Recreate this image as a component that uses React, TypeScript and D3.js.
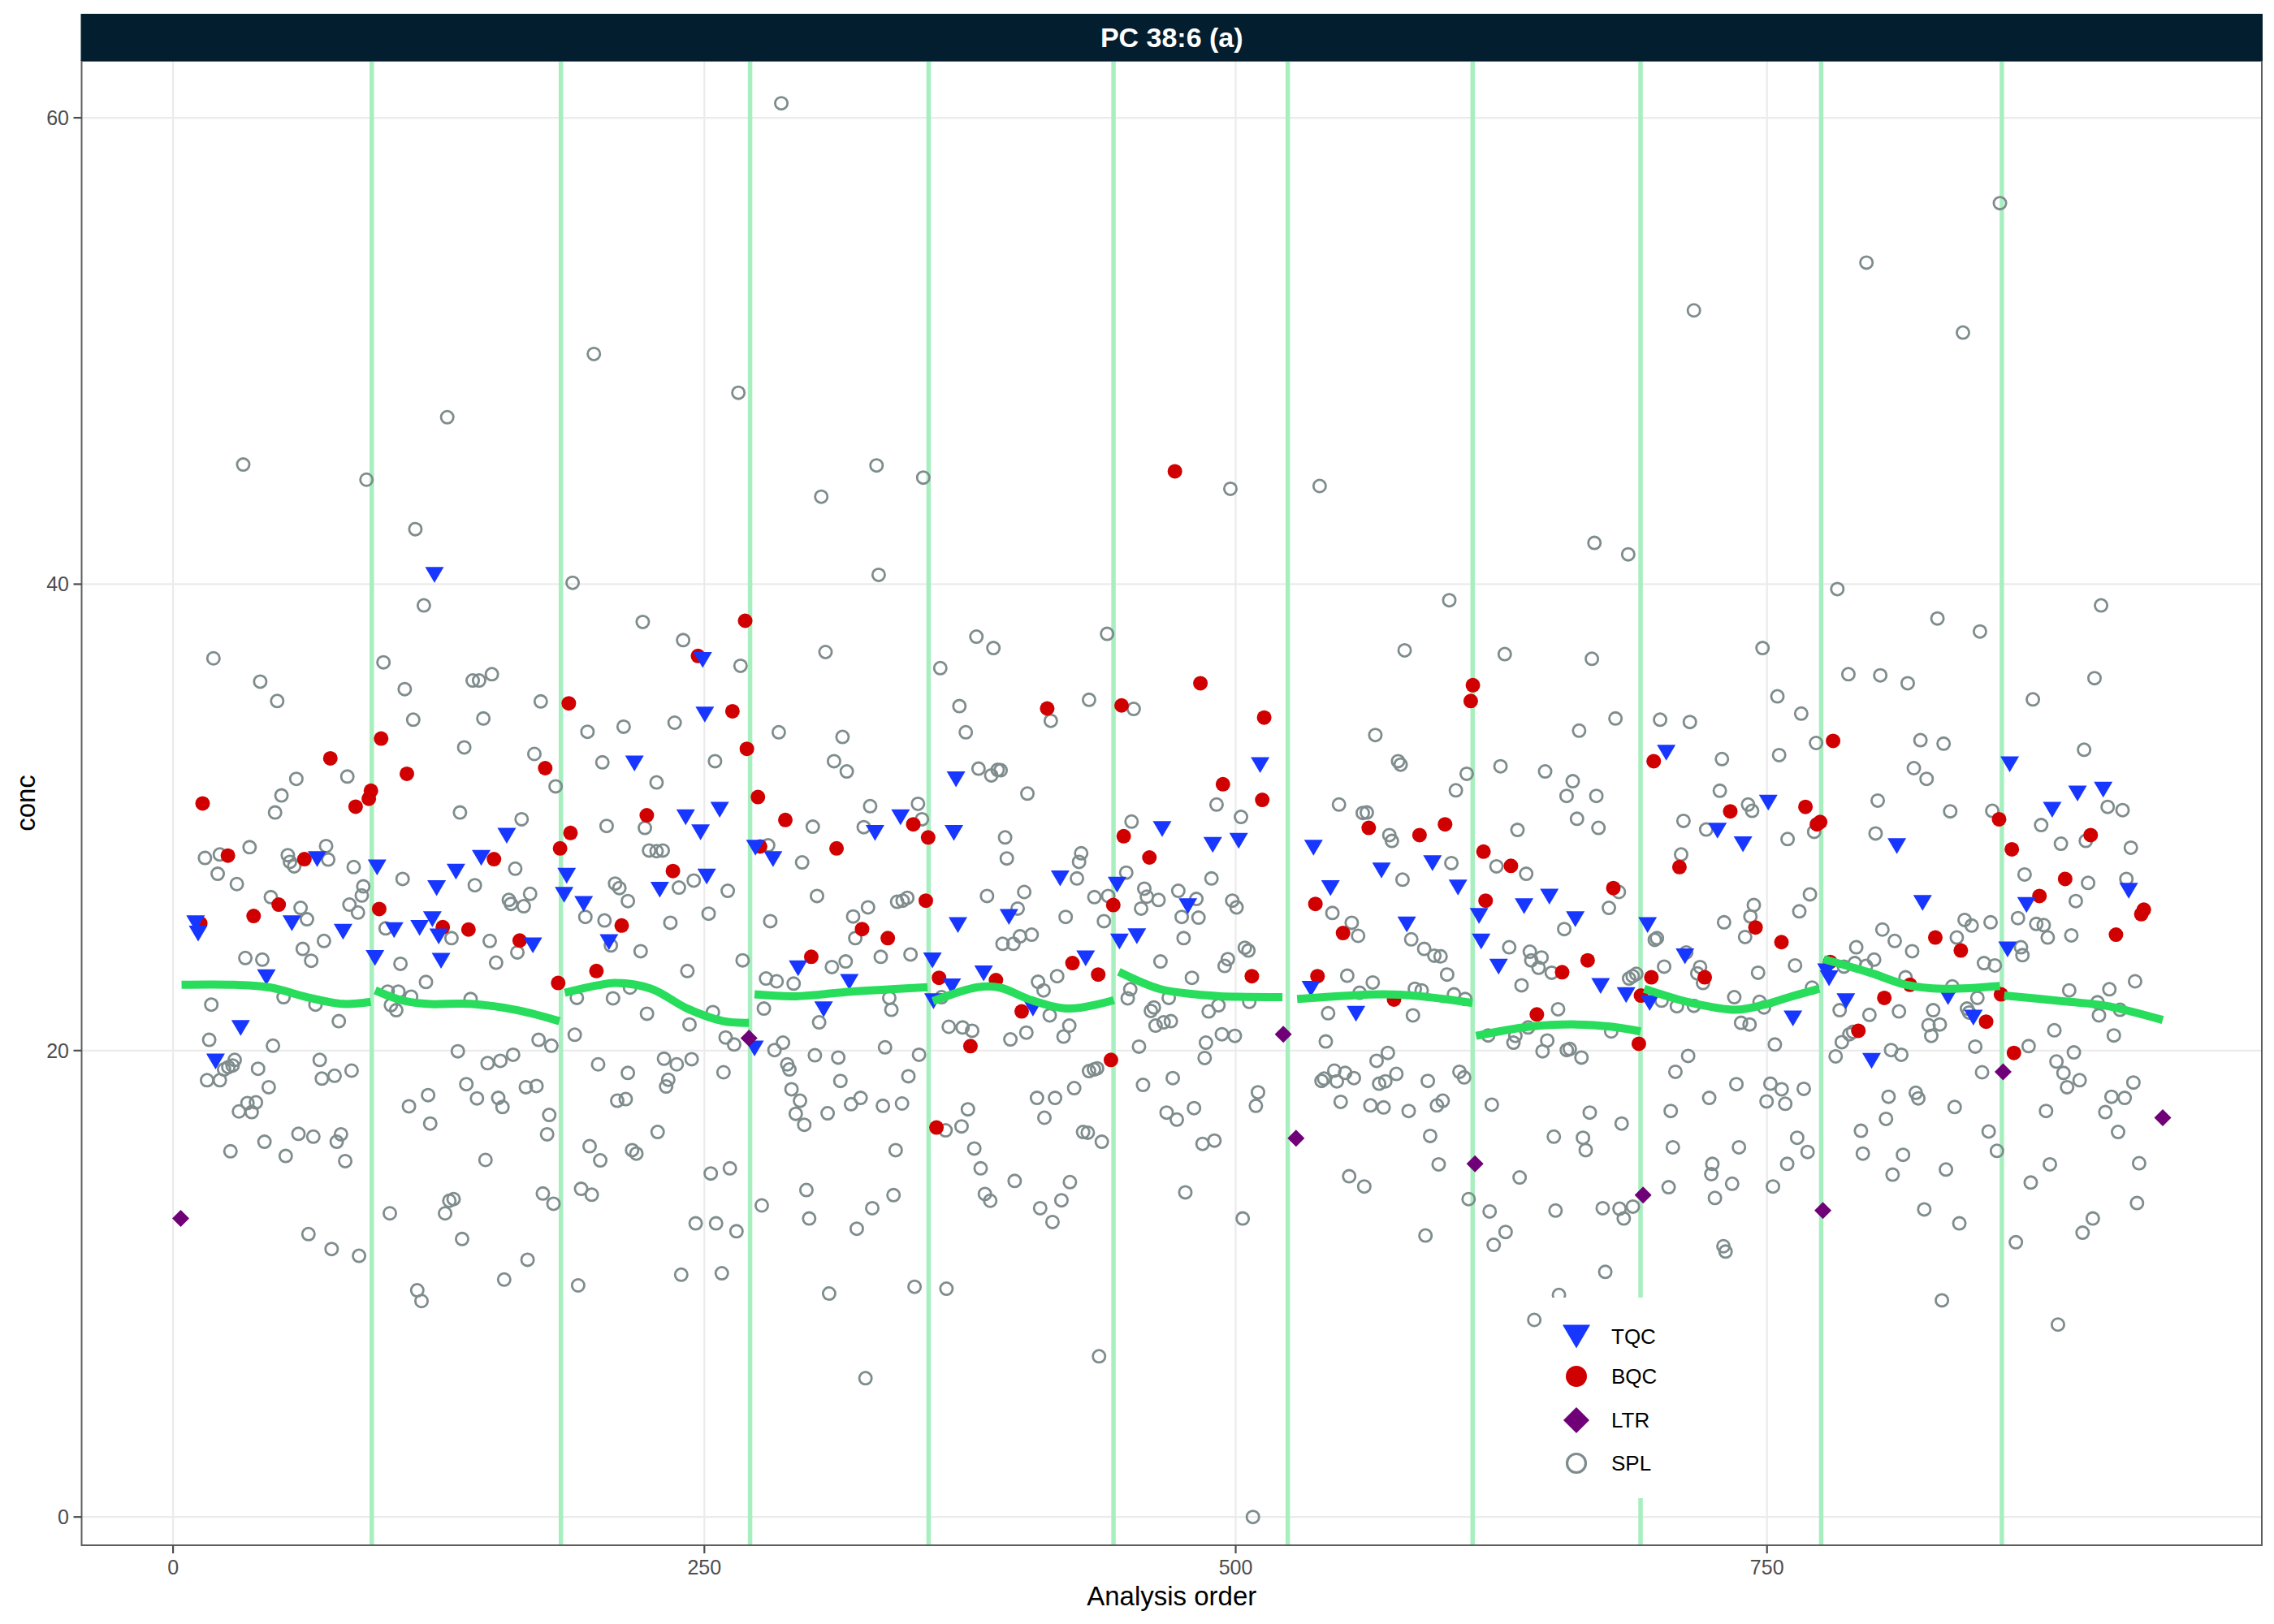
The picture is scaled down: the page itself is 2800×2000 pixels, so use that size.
import React, { useEffect, useRef } from "react";
import * as d3 from "d3";

// facet title and tick labels
const stripTitle = "PC 38:6 (a)";
const xTicks = [0, 250, 500, 750];
const yTicks = [0, 20, 40, 60];
const legendLabels = ["TQC", "BQC", "LTR", "SPL"];

// analysis order where a new batch starts
const batchBreaks = [93.5, 182.5, 271.5, 355.5, 442.5, 524.5, 611.5, 690.5, 775.5, 860.5];

// [analysis order, conc]
const tqc: [number, number][] = [
  [10.6, 25.46], [11.8, 25.02], [20, 19.53], [31.8, 20.97], [43.9, 23.14], [55.9, 25.46], [67.8, 28.21],
  [80, 25.09], [95, 23.97], [96, 27.85], [104, 25.16], [116, 25.26], [122, 25.63], [123, 40.4], [124, 26.97],
  [125, 24.89], [126.1, 23.85], [133.1, 27.67], [145, 28.26], [157, 29.21], [169.3, 24.51], [184, 26.68],
  [185.2, 27.5], [193.2, 26.29], [205.1, 24.65], [217.1, 32.31], [229, 26.9], [241.2, 30.0], [248.2, 29.36],
  [249.2, 36.75], [250.2, 34.41], [251.1, 27.46], [257.2, 30.33], [273.6, 20.09], [274, 28.7], [282.3, 28.21],
  [294.1, 23.53], [306.1, 21.77], [318.2, 22.94], [330.3, 29.33], [342.3, 30.0], [357.3, 23.87], [357.8, 22.12],
  [366.4, 22.75], [367.4, 29.33], [368.4, 31.63], [369.3, 25.38], [381.4, 23.31], [393.3, 25.73], [404.6, 21.8],
  [417.4, 27.38], [429.4, 23.95], [444.2, 27.11], [445.3, 24.68], [453.5, 24.9], [465.4, 29.5], [477.5, 26.19],
  [489.2, 28.82], [501.4, 28.99], [511.5, 32.24], [535.4, 22.65], [536.6, 28.7], [544.6, 26.97], [556.6, 21.58],
  [568.6, 27.72], [580.5, 25.41], [592.6, 28.04], [604.6, 26.99], [614.5, 25.77], [615.5, 24.68], [623.7, 23.6],
  [635.7, 26.19], [647.6, 26.6], [659.8, 25.63], [671.7, 22.77], [683.7, 22.38], [693.8, 25.38], [694.8, 22.04],
  [702.6, 32.77], [711.4, 24.04], [726.7, 29.43], [738.7, 28.85], [750.6, 30.63], [762.2, 21.38], [778, 23.4],
  [779.2, 23.1], [787.1, 22.12], [799.2, 19.56], [811.1, 28.77], [823.2, 26.33], [835.2, 22.29], [847.1, 21.41],
  [863.2, 24.34], [864.2, 32.28], [872.1, 26.24], [884.2, 30.33], [896.1, 31.02], [908.2, 31.19], [920.2, 26.85],
];

const bqc: [number, number][] = [
  [12.8, 25.46], [13.9, 30.6], [25.8, 28.36], [37.9, 25.77], [49.7, 26.26], [61.8, 28.21], [74, 32.53],
  [85.9, 30.46], [92.1, 30.8], [93.1, 31.14], [97, 26.07], [97.9, 33.38], [110, 31.87], [126.9, 25.29],
  [139, 25.19], [151, 28.21], [163.1, 24.72], [175.1, 32.11], [181.2, 22.9], [182.1, 28.67], [186.2, 34.89],
  [187, 29.33], [199.2, 23.41], [211.1, 25.36], [222.9, 30.09], [235.2, 27.7], [247, 36.92], [263.2, 34.55],
  [269.2, 38.43], [270, 32.94], [275.2, 30.87], [276.2, 28.75], [288.1, 29.89], [300.3, 24.02], [312.2, 28.67],
  [324.2, 25.21], [336.3, 24.82], [348.3, 29.7], [354.2, 26.43], [355.3, 29.14], [359.2, 16.7], [360.4, 23.12],
  [375.2, 20.19], [387.2, 23.02], [399.3, 21.68], [411.3, 34.67], [423.2, 23.75], [435.3, 23.26], [441.3, 19.6],
  [442.4, 26.24], [446.3, 34.8], [447.3, 29.19], [459.4, 28.28], [471.4, 44.84], [483.4, 35.75], [494, 31.42],
  [507.6, 23.19], [512.5, 30.75], [513.4, 34.28], [537.5, 26.29], [538.5, 23.19], [550.5, 25.04], [562.6, 29.55],
  [574.5, 22.19], [586.5, 29.24], [598.5, 29.7], [610.6, 34.99], [611.6, 35.67], [616.6, 28.53], [617.6, 26.43],
  [629.5, 27.92], [641.7, 21.55], [653.6, 23.36], [665.6, 23.87], [677.7, 26.97], [689.7, 20.29], [690.7, 22.36],
  [695.6, 23.14], [696.7, 32.41], [708.8, 27.87], [720.7, 23.14], [732.7, 30.26], [744.6, 25.28], [756.8, 24.65],
  [768.1, 30.45], [773.5, 29.7], [775, 29.8], [779.7, 23.8], [781.1, 33.28], [793, 20.85], [805.2, 22.26],
  [817.3, 22.82], [829.2, 24.85], [841.2, 24.29], [853.1, 21.24], [859.2, 29.92], [860.1, 22.41], [865.2, 28.63],
  [866.2, 19.9], [878.2, 26.63], [890.3, 27.36], [902.3, 29.24], [914.2, 24.97], [926.1, 25.85], [927.3, 26.04],
];

const ltr: [number, number][] = [
  [3.6, 12.8], [271, 20.53], [522.4, 20.7], [528.4, 16.24], [612.6, 15.14], [691.7, 13.8], [776.3, 13.14],
  [861.1, 19.09], [936.2, 17.12],
];

const spl: [number, number][] = [
  // batch 1-3
  [33, 45.13], [91, 44.48], [129, 47.16], [198, 49.87], [114, 42.36], [118, 39.09], [188, 40.06], [221, 38.38],
  [19, 36.82], [41, 35.82], [49, 34.99], [99, 36.65], [109, 35.5], [113, 34.19], [141, 35.87], [144, 35.87],
  [150, 36.14], [146, 34.24], [137, 33.0], [173, 34.97], [170, 32.72], [180, 31.33], [195, 33.67], [202, 32.36],
  [212, 33.89], [135, 30.21], [164, 29.92], [204, 29.63], [222, 29.55], [224, 28.58], [58, 31.65], [82, 31.75],
  [51, 30.94], [48, 30.21], [15, 28.26], [22, 28.41], [21, 27.58], [36, 28.72], [30, 27.14], [54, 28.38],
  [55, 28.09], [57, 27.9], [72, 28.77], [73, 28.19], [85, 27.87], [89.5, 27.04], [88.8, 26.65], [83, 26.26],
  [87, 25.92], [46, 26.58], [60, 26.12], [63, 25.63], [108, 27.36], [142, 27.09], [161, 27.8], [158, 26.46],
  [159, 26.29], [165, 26.19], [168, 26.72], [208, 27.16], [210, 26.97], [214, 26.41], [194, 25.73], [203, 25.58],
  [100, 25.24], [131, 24.82], [149, 24.7], [162, 24.21], [152, 23.77], [206, 24.51], [220, 24.26], [61, 24.36],
  [65, 23.85], [71, 24.7], [34, 23.97], [42, 23.9], [107, 23.72], [119, 22.94], [101, 22.53], [106, 22.53],
  [112, 22.31], [102.5, 21.95], [105, 21.73], [140, 22.21], [190, 22.26], [207, 22.24], [215, 22.7], [223, 21.58],
  [52, 22.29], [67, 21.97], [78, 21.26], [18, 21.97], [17, 20.46], [47, 20.21], [189, 20.68], [172, 20.46],
  [178, 20.21], [134, 19.97], [148, 19.46], [154, 19.56], [160, 19.82], [29, 19.6], [26, 19.29], [24, 19.19],
  [28, 19.36], [16, 18.73], [22, 18.73], [40, 19.22], [45, 18.43], [69, 19.6], [70, 18.8], [76, 18.92],
  [84, 19.14], [31, 17.39], [35, 17.75], [37, 17.36], [39, 17.78], [111, 17.61], [120, 18.09], [121, 16.87],
  [138, 18.56], [143, 17.95], [153, 17.97], [155, 17.58], [166, 18.43], [171, 18.48], [177, 17.24], [176, 16.41],
  [200, 19.41], [214, 19.04], [209, 17.85], [213, 17.92], [27, 15.68], [43, 16.09], [53, 15.48], [59, 16.43],
  [66, 16.31], [77, 16.09], [79, 16.41], [81, 15.26], [147, 15.31], [196, 15.9], [201, 15.29], [216, 15.73],
  [218, 15.58], [174, 13.87], [179, 13.43], [192, 14.07], [197, 13.82], [130, 13.56], [132, 13.63], [102, 13.02],
  [128, 13.02],
  // batch 3-6
  [266, 48.21], [331, 45.09], [305, 43.75], [353, 44.57], [332, 40.4], [240, 37.6], [267, 36.5], [236, 34.06],
  [255, 32.41], [227.5, 31.5], [307, 37.09], [285, 33.65], [315, 33.45], [311, 32.41], [317, 31.97], [328, 30.48],
  [350.5, 30.58], [352.4, 29.92], [325, 29.58], [301, 29.6], [296, 28.07], [227.5, 28.55], [230.4, 28.58],
  [238, 26.99], [245, 27.29], [261, 26.85], [234, 25.48], [252, 25.87], [281, 25.55], [303, 26.63], [320, 25.75],
  [327, 26.14], [321, 24.82], [340.7, 26.38], [343.3, 26.43], [345.5, 26.55], [280, 28.8], [242, 23.41],
  [268, 23.87], [279, 23.09], [284, 22.97], [292, 22.87], [310, 23.58], [316.5, 23.82], [333, 24.02], [347, 24.12],
  [337, 22.26], [338, 21.75], [254, 21.65], [243, 21.12], [278, 21.8], [304, 21.21], [260, 20.56], [264, 20.26],
  [231, 19.65], [237, 19.41], [244, 19.63], [233, 18.75], [232, 18.46], [259, 19.07], [228, 16.51], [283, 20.02],
  [287, 20.34], [289, 19.41], [290, 19.19], [291, 18.34], [295, 17.85], [293, 17.29], [297, 16.82], [302, 19.8],
  [313, 19.7], [314, 18.7], [308, 17.31], [319, 17.7], [323.5, 17.97], [334, 17.63], [335, 20.14], [343, 17.73],
  [346, 18.9], [351, 19.82], [340, 15.73], [253, 14.73], [262, 14.95], [277, 13.36], [298, 14.02], [329, 13.24],
  [339, 13.8], [299.3, 12.8],
  [361, 36.4], [378, 37.75], [386, 37.26], [370, 34.77], [373, 33.65], [379, 32.09], [385, 31.8], [388, 32.04],
  [389.4, 32.02], [402, 31.02], [413, 34.14], [431, 35.04], [439.5, 37.87], [391.5, 29.14], [392.3, 28.24],
  [427.3, 28.46], [426.3, 28.09], [425.3, 27.38], [383, 26.63], [400.5, 26.8], [397.4, 26.09], [398.5, 24.9],
  [404, 24.97], [390.3, 24.58], [395.4, 24.58], [420, 25.73], [433.5, 26.58], [440, 26.63], [438, 25.55],
  [407, 22.95], [409.6, 22.58], [416, 23.19], [412.5, 21.51], [361.6, 22.29], [365, 21.02], [371.5, 20.99],
  [376, 20.85], [394, 20.48], [401.5, 20.77], [419, 20.6], [421.7, 21.07], [424, 18.39], [431, 19.12],
  [433.3, 19.19], [434.8, 19.24], [406.5, 17.97], [415, 17.97], [410, 17.12], [374, 17.48], [371, 16.75],
  [363.5, 16.58], [377, 15.8], [380, 14.95], [428.2, 16.51], [430.4, 16.48], [437, 16.09], [396, 14.41],
  [422, 14.36], [418, 13.58], [382, 13.85], [384.5, 13.56], [408, 13.24],
  [452, 34.65], [451, 29.82], [448.5, 27.63], [457, 26.94], [458.2, 26.6], [455.5, 26.09], [463.7, 26.46],
  [473, 26.85], [481.5, 26.5], [474.6, 25.73], [482.5, 25.7], [475.5, 24.82], [491, 30.55], [488.6, 27.38],
  [464.6, 23.82], [479.4, 23.12], [450.4, 22.63], [449.2, 22.24], [468.5, 22.26], [461.5, 21.85], [460.1, 21.7],
  [462.3, 21.07], [466.1, 21.21], [469.5, 21.26], [487.3, 21.68], [491.9, 21.94], [454.5, 20.17], [486, 20.34],
  [485.4, 19.68], [456.4, 18.53], [470.4, 18.82], [467.5, 17.34], [472.3, 17.04], [480.4, 17.53], [484.4, 16.0],
  [490, 16.14], [476.3, 13.92],
  // batch 6-9
  [497.5, 44.09], [539.5, 44.21], [668.8, 41.77], [684.7, 41.28], [600.5, 39.31], [579.5, 37.16], [626.6, 37.0],
  [667.6, 36.8], [747.9, 37.26], [754.9, 35.19], [755.7, 32.67], [759.7, 29.07], [565.7, 33.53], [576.4, 32.41],
  [577.6, 32.26], [548.6, 30.55], [559.8, 30.19], [561.7, 30.21], [572.3, 29.24], [573.5, 28.99], [578.5, 27.33],
  [601.5, 28.04], [603.6, 31.16], [608.7, 31.87], [661.6, 33.72], [678.7, 34.24], [699.7, 34.19], [713.7, 34.09],
  [624.6, 32.19], [645.6, 31.97], [658.6, 31.55], [655.7, 30.92], [669.7, 30.92], [660.6, 29.94], [670.7, 29.55],
  [632.6, 29.46], [622.7, 27.9], [636.7, 27.58], [728.8, 32.5], [727.8, 31.14], [741.1, 30.55], [743, 30.28],
  [710.7, 29.85], [721.4, 29.48], [709.6, 28.41], [502.5, 30.02], [498.4, 26.43], [500.4, 26.14], [545.5, 25.9],
  [554.6, 25.48], [557.6, 24.92], [582.6, 24.77], [588.7, 24.36], [593.5, 24.07], [596.4, 24.04], [599.5, 23.26],
  [552.5, 23.21], [564.5, 22.92], [558.3, 22.48], [584.3, 22.65], [587.5, 22.58], [602.7, 22.41], [608, 22.21],
  [583.4, 21.51], [543.5, 21.6], [506.4, 22.09], [504.3, 24.41], [506, 24.29], [496.3, 23.92], [494.8, 23.63],
  [493.5, 20.7], [499.6, 20.63], [542.4, 20.39], [509.5, 17.63], [510.5, 18.21], [503.3, 12.8], [540.4, 18.7],
  [541.6, 18.8], [546.4, 19.14], [547.6, 18.68], [551.5, 19.04], [555.6, 18.82], [549.4, 17.8], [566.3, 19.56],
  [571.6, 19.9], [567.5, 18.58], [570.4, 18.68], [575.6, 19.0], [563.4, 17.65], [569.6, 17.56], [581.4, 17.41],
  [590.4, 18.7], [594.7, 17.65], [597.4, 17.85], [605.3, 19.09], [607.5, 18.85], [591.5, 16.34], [595.5, 15.12],
  [553.4, 14.61], [560.5, 14.17], [609.6, 13.63], [619.5, 13.1],
  [618.8, 20.65], [630.7, 20.34], [631.6, 20.63], [637.6, 20.99], [646.6, 20.43], [644.4, 19.97], [651.7, 21.77],
  [655.8, 20.02], [657.2, 20.07], [662.7, 19.7], [676.7, 20.82], [620.5, 17.68], [628.7, 24.43], [634.5, 22.8],
  [638.4, 24.24], [639.1, 23.87], [643.9, 23.99], [642.5, 23.55], [648.7, 23.34], [654.6, 25.21], [675.6, 26.12],
  [680.3, 26.8], [685.1, 23.09], [686.8, 23.19], [688.5, 23.29], [666.6, 17.34], [681.6, 16.87], [649.7, 16.31],
  [663.4, 16.26], [664.7, 15.73], [633.6, 14.56], [650.5, 13.14], [672.7, 13.24], [680.6, 13.22], [686.9, 13.31],
  [682.6, 12.8],
  [698.2, 24.82], [697.2, 24.75], [701.6, 23.6], [700.4, 22.14], [707.6, 21.9], [712, 24.21], [715.6, 21.92],
  [717.2, 23.31], [718.5, 23.58], [719.9, 22.9], [712.9, 19.77], [706.9, 19.09], [704.7, 17.41], [705.7, 15.85],
  [703.7, 14.14], [722.8, 17.97], [724.3, 15.14], [723.8, 14.7], [725.5, 13.68], [733.6, 14.29], [736.8, 15.85],
  [735.6, 18.56], [729.8, 25.5], [743.8, 26.24], [742.2, 25.75], [739.7, 24.87], [745.8, 23.34], [734.6, 22.29],
  [746.5, 22.09], [748.6, 21.85], [737.8, 21.19], [741.8, 21.12], [753.7, 20.26], [751.6, 18.58], [756.9, 18.34],
  [749.8, 17.82], [758.6, 17.72], [752.8, 14.17], [759.5, 15.14],
  // batch 9-11
  [842.2, 50.79], [783.1, 39.79], [830.2, 38.53], [850.2, 37.97], [907.2, 39.09], [766.1, 34.45], [773.1, 33.19],
  [788.3, 36.14], [803.3, 36.09], [816.2, 35.75], [822.2, 33.31], [833.1, 33.16], [819.1, 32.11], [825.1, 31.65],
  [875.1, 35.06], [904.1, 35.97], [899.2, 32.9], [772.2, 29.38], [802.1, 30.72], [801.1, 29.31], [836.2, 30.26],
  [856, 30.28], [910.3, 30.45], [917.3, 30.31], [879, 29.67], [888.3, 28.87], [900, 28.99], [921.2, 28.7],
  [871.2, 27.55], [901.1, 27.19], [919.1, 27.36], [895.3, 26.41], [770.2, 26.7], [765.2, 25.97], [763.2, 23.65],
  [868.1, 25.68], [876.7, 25.43], [880.2, 25.38], [882.1, 24.85], [893.2, 24.94], [843, 25.6], [846.3, 25.36],
  [855.2, 25.5], [839.3, 24.85], [804.3, 25.19], [810.1, 24.7], [818.3, 24.26], [792, 24.43], [791.3, 23.75],
  [786.2, 23.6], [800.4, 23.9], [796.6, 23.63], [815.2, 23.14], [837.2, 22.75], [852.1, 23.75], [857.2, 23.65],
  [869.5, 24.43], [870.2, 24.09], [892.2, 22.58], [911.1, 22.63], [923.2, 22.97], [905.5, 22.07], [906.2, 21.51],
  [916.1, 21.75], [885.2, 20.87], [913.2, 20.65], [873.1, 20.19], [894.4, 19.92], [771.2, 22.7], [784.2, 21.73],
  [798.2, 21.53], [812.1, 21.68], [828.2, 21.73], [826, 21.09], [831.3, 21.12], [827.3, 20.63], [844.1, 21.8],
  [845.1, 21.63], [849, 22.26], [848, 20.17], [785.2, 20.36], [788.8, 20.7], [790.5, 20.8], [782.3, 19.75],
  [808.4, 20.02], [813.2, 19.82], [851.2, 19.07], [886.2, 19.53], [889.5, 19.04], [891.2, 18.43], [897.1, 18.73],
  [922.4, 18.63], [912.1, 18.02], [918.3, 17.97], [909.2, 17.36], [915.2, 16.51], [881.3, 17.41], [838.3, 17.58],
  [807.2, 18.02], [820, 18.19], [821.2, 17.95], [806, 17.07], [794.2, 16.56], [795.1, 15.58], [814, 15.53],
  [854.3, 16.53], [858.2, 15.7], [834.2, 14.9], [809.1, 14.68], [824, 13.19], [883.1, 15.12], [874.1, 14.34],
  [925.1, 15.17], [924.1, 13.46], [767.3, 18.36], [764.2, 16.26], [769.1, 15.65], [903.3, 12.8],
  // high and low samples
  [286.2, 60.62], [859.6, 56.34], [796.8, 53.79], [715.6, 51.74],
  [63.7, 12.13], [74.6, 11.49], [87.5, 11.2], [136, 11.92], [166.8, 11.03], [114.9, 9.72], [116.9, 9.26],
  [155.8, 10.18], [190.6, 9.93], [239.1, 10.39], [258.2, 10.45], [245.9, 12.59], [255.5, 12.59], [265.1, 12.25],
  [321.7, 12.36], [308.7, 9.58], [348.9, 9.87], [363.9, 9.79], [325.8, 5.95], [413.8, 12.65], [435.7, 6.89],
  [508.1, 0.0], [589.3, 12.07], [621.4, 11.67], [627, 12.22], [652.1, 9.52], [640.5, 8.45], [673.9, 10.51],
  [729.5, 11.61], [730.5, 11.38], [840.5, 12.59], [832.3, 9.29], [867.1, 11.78], [898.5, 12.19], [886.9, 8.25],
];

// loess trend per batch
const loessBatches: [number, number][][] = [
  [[4, 22.82], [28.9, 22.82], [46, 22.7], [63, 22.29], [80, 22.0], [93, 22.09]],
  [[95.1, 22.58], [107.4, 22.16], [119.4, 22.0], [140, 22.0], [162.1, 21.73], [181.8, 21.26]],
  [[184.3, 22.48], [200, 22.8], [208, 22.9], [225, 22.65], [242, 21.8], [259, 21.26], [271, 21.19]],
  [[273.6, 22.41], [293, 22.33], [319, 22.53], [338, 22.63], [355, 22.72]],
  [[357.5, 22.12], [378.7, 22.72], [389, 22.7], [404, 22.16], [421.4, 21.8], [442.7, 22.16]],
  [[445, 23.38], [464, 22.65], [481, 22.41], [492.7, 22.33], [522, 22.29]],
  [[528.9, 22.21], [569.6, 22.41], [586.7, 22.33], [611.4, 22.04]],
  [[613.1, 20.63], [637.9, 21.02], [660.1, 21.12], [677.2, 21.02], [690.5, 20.82]],
  [[692.2, 22.65], [714.8, 22.04], [735.3, 21.75], [748.9, 21.97], [760.5, 22.29], [774.6, 22.65]],
  [[776.7, 23.92], [798.5, 23.34], [815.6, 22.82], [832.6, 22.65], [859.6, 22.77]],
  [[861.6, 22.36], [892.4, 22.09], [909.4, 21.92], [936.2, 21.31]],
];

const colors = {
  TQC: "#1736ff",
  BQC: "#d10000",
  LTR: "#700078",
  SPL: "#7f8c8d",
  batch: "#a8efc0",
  loess: "#27dd5b",
  strip: "#031e2f",
  grid: "#ebebeb",
  border: "#5e5e5e",
};

const triangle = (w: number, h: number) => `M${-w / 2},${-h / 2}L${w / 2},${-h / 2}L0,${h / 2}Z`;
const diamond = (r: number) => `M0,${-r}L${r},0L0,${r}L${-r},0Z`;

const QcPlot = () => {
  const ref = useRef<HTMLDivElement>(null);

  useEffect(() => {
    const width = 2800;
    const height = 2000;
    const panel = { left: 100.5, right: 2785, top: 75, bottom: 1903 };
    const font = "'Liberation Sans', Arial, Helvetica, sans-serif";

    d3.select(ref.current).selectAll("*").remove();
    const svg = d3
      .select(ref.current)
      .append("svg")
      .attr("width", width)
      .attr("height", height)
      .style("display", "block")
      .style("font-family", font);

    svg.append("rect").attr("width", width).attr("height", height).attr("fill", "#fff");

    const all = [...tqc, ...bqc, ...ltr, ...spl];
    const [xMin, xMax] = d3.extent(all, (d) => d[0]) as [number, number];
    const [yMin, yMax] = d3.extent(all, (d) => d[1]) as [number, number];
    const xPad = (xMax - xMin) * 0.05;
    const yRange = yMax - yMin;

    const x = d3.scaleLinear().domain([xMin - xPad, xMax + xPad]).range([panel.left, panel.right]);
    const y = d3
      .scaleLinear()
      .domain([yMin - yRange * 0.02, yMax + yRange * 0.03])
      .range([panel.bottom, panel.top]);

    // grid
    const grid = svg.append("g");
    grid
      .selectAll(".gx")
      .data(xTicks)
      .enter()
      .append("line")
      .attr("x1", (d) => x(d))
      .attr("x2", (d) => x(d))
      .attr("y1", panel.top)
      .attr("y2", panel.bottom)
      .style("stroke", colors.grid)
      .style("stroke-width", 2.2);
    grid
      .selectAll(".gy")
      .data(yTicks)
      .enter()
      .append("line")
      .attr("x1", panel.left)
      .attr("x2", panel.right)
      .attr("y1", (d) => y(d))
      .attr("y2", (d) => y(d))
      .style("stroke", colors.grid)
      .style("stroke-width", 2.2);

    // batch boundaries
    svg
      .append("g")
      .selectAll("line")
      .data(batchBreaks)
      .enter()
      .append("line")
      .attr("x1", (d) => x(d))
      .attr("x2", (d) => x(d))
      .attr("y1", panel.top)
      .attr("y2", panel.bottom)
      .style("stroke", colors.batch)
      .style("stroke-width", 5.5);

    // points
    const pts = svg.append("g");
    pts
      .selectAll(".spl")
      .data(spl)
      .enter()
      .append("circle")
      .attr("cx", (d) => x(d[0]))
      .attr("cy", (d) => y(d[1]))
      .attr("r", 7.6)
      .style("fill", "none")
      .style("stroke", colors.SPL)
      .style("stroke-width", 2.8);
    pts
      .selectAll(".bqc")
      .data(bqc)
      .enter()
      .append("circle")
      .attr("cx", (d) => x(d[0]))
      .attr("cy", (d) => y(d[1]))
      .attr("r", 9)
      .style("fill", colors.BQC);
    pts
      .selectAll(".tqc")
      .data(tqc)
      .enter()
      .append("path")
      .attr("d", triangle(23, 19.5))
      .attr("transform", (d) => `translate(${x(d[0])},${y(d[1])})`)
      .style("fill", colors.TQC);
    pts
      .selectAll(".ltr")
      .data(ltr)
      .enter()
      .append("path")
      .attr("d", diamond(10.5))
      .attr("transform", (d) => `translate(${x(d[0])},${y(d[1])})`)
      .style("fill", colors.LTR);

    // loess trend per batch
    const line = d3
      .line<[number, number]>()
      .x((d) => x(d[0]))
      .y((d) => y(d[1]))
      .curve(d3.curveCatmullRom);
    svg
      .append("g")
      .selectAll("path")
      .data(loessBatches)
      .enter()
      .append("path")
      .attr("d", (d) => line(d))
      .style("fill", "none")
      .style("stroke", colors.loess)
      .style("stroke-width", 10);

    // panel border
    svg
      .append("rect")
      .attr("x", panel.left)
      .attr("y", panel.top)
      .attr("width", panel.right - panel.left)
      .attr("height", panel.bottom - panel.top)
      .style("fill", "none")
      .style("stroke", colors.border)
      .style("stroke-width", 2);

    // facet strip
    svg
      .append("rect")
      .attr("x", panel.left - 1)
      .attr("y", 17)
      .attr("width", panel.right - panel.left + 2)
      .attr("height", panel.top - 17)
      .style("fill", colors.strip);
    svg
      .append("text")
      .attr("x", (panel.left + panel.right) / 2)
      .attr("y", 58)
      .attr("text-anchor", "middle")
      .style("font-size", "34px")
      .style("font-weight", "bold")
      .style("fill", "#fff")
      .text(stripTitle);

    // axes
    const axes = svg.append("g").style("fill", "#4d4d4d");
    xTicks.forEach((t) => {
      axes
        .append("line")
        .attr("x1", x(t))
        .attr("x2", x(t))
        .attr("y1", panel.bottom)
        .attr("y2", panel.bottom + 10)
        .style("stroke", "#4d4d4d")
        .style("stroke-width", 2.2);
      axes
        .append("text")
        .attr("x", x(t))
        .attr("y", 1939)
        .attr("text-anchor", "middle")
        .style("font-size", "25px")
        .text(t);
    });
    yTicks.forEach((t) => {
      axes
        .append("line")
        .attr("x1", panel.left - 10)
        .attr("x2", panel.left)
        .attr("y1", y(t))
        .attr("y2", y(t))
        .style("stroke", "#4d4d4d")
        .style("stroke-width", 2.2);
      axes
        .append("text")
        .attr("x", 85)
        .attr("y", y(t))
        .attr("dy", "0.36em")
        .attr("text-anchor", "end")
        .style("font-size", "25px")
        .text(t);
    });

    svg
      .append("text")
      .attr("x", (panel.left + panel.right) / 2)
      .attr("y", 1977)
      .attr("text-anchor", "middle")
      .style("font-size", "33px")
      .style("fill", "#000")
      .text("Analysis order");
    svg
      .append("text")
      .attr("transform", `translate(43,${(panel.top + panel.bottom) / 2}) rotate(-90)`)
      .attr("text-anchor", "middle")
      .style("font-size", "33px")
      .style("fill", "#000")
      .text("conc");

    // legend
    const legend = svg.append("g");
    legend
      .append("rect")
      .attr("x", 1900)
      .attr("y", 1598)
      .attr("width", 162)
      .attr("height", 247)
      .style("fill", "#fff");
    const keyX = 1941;
    const keyY = [1646, 1695, 1749, 1802];
    legend
      .append("path")
      .attr("d", triangle(34, 29))
      .attr("transform", `translate(${keyX},${keyY[0]})`)
      .style("fill", colors.TQC);
    legend
      .append("circle")
      .attr("cx", keyX)
      .attr("cy", keyY[1])
      .attr("r", 13)
      .style("fill", colors.BQC);
    legend
      .append("path")
      .attr("d", diamond(16))
      .attr("transform", `translate(${keyX},${keyY[2]})`)
      .style("fill", colors.LTR);
    legend
      .append("circle")
      .attr("cx", keyX)
      .attr("cy", keyY[3])
      .attr("r", 11.5)
      .style("fill", "none")
      .style("stroke", colors.SPL)
      .style("stroke-width", 3.2);
    legend
      .selectAll("text")
      .data(legendLabels)
      .enter()
      .append("text")
      .attr("x", 1984)
      .attr("y", (d, i) => keyY[i])
      .attr("dy", "0.36em")
      .style("font-size", "26px")
      .style("fill", "#000")
      .text((d) => d);
  }, []);

  return <div ref={ref} style={{ position: "absolute", left: 0, top: 0 }}></div>;
};

export default function App() {
  return <QcPlot />;
}
